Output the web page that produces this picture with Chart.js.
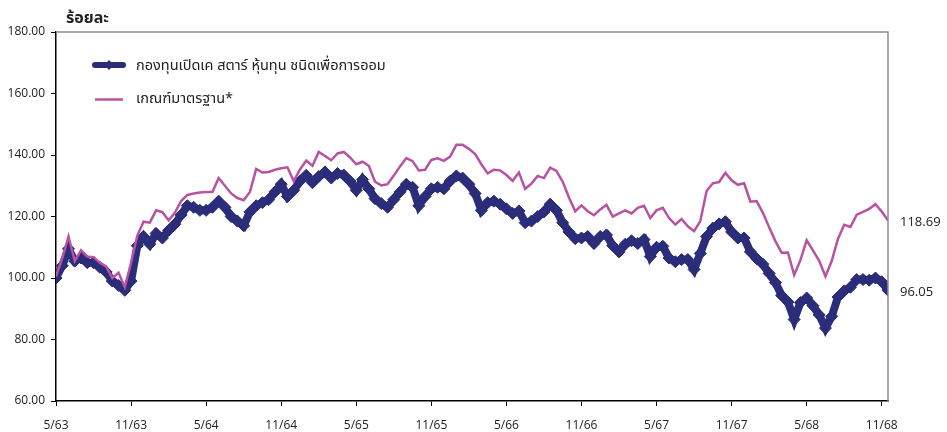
<!DOCTYPE html>
<html>
<head>
<meta charset="utf-8">
<script src="https://cdn.jsdelivr.net/npm/chart.js@4.4.1/dist/chart.umd.min.js"></script>
<style>
  html, body { margin: 0; padding: 0; background: #fff; }
</style>
</head>
<body>
<canvas id="myChart" width="947" height="432"></canvas>
<script>
// tick labels, one every 6 months (x value = half-months since 5/63)
const tickLabels = ["5/63", "11/63", "5/64", "11/64", "5/65", "11/65", "5/66", "11/66", "5/67", "11/67", "5/68", "11/68"];

const yTitle = "ร้อยละ";
const fundLabel = "กองทุนเปิดเค สตาร์ หุ้นทุน ชนิดเพื่อการออม";
const benchLabel = "เกณฑ์มาตรฐาน*";

// values, two per month
const fundValues = [
  100.0, 104, 109.5, 105.5, 106.5, 105, 105, 103.5, 102, 99, 97.6, 96, 99,
  110.5, 113.5, 111, 114.5, 113, 115.5, 117.5, 120.5, 123.5, 123, 122, 122,
  123, 125, 123, 120, 118.5, 117, 121.5, 123.5, 124.5, 125.5, 128, 130.5,
  126.5, 128.5, 131.5, 133.4, 131, 133, 134.5, 132.5, 134, 133.5, 131.5, 128.5,
  132, 129, 125.8, 124.2, 123, 125.5, 128, 130.5, 129.5, 123.5, 126.5, 129,
  129.5, 129, 131.5, 133.2, 132.5, 130.5, 127.5, 122, 124.5, 125, 124, 122.5,
  121, 121.8, 118, 118.5, 120, 121.5, 124, 122, 118, 115, 112.8, 113,
  113.5, 111.2, 113.5, 114, 110.5, 108.5, 111, 112.1, 111.2, 112.5, 107, 110,
  110.3, 106.5, 105.3, 106, 106, 102.8, 108, 113.5, 116.2, 117.6, 118.3, 115,
  113, 113, 108.5, 106.3, 104.5, 101.5, 98.5, 94.3, 92.2, 86.5, 92, 93.5,
  91, 88, 83.7, 87.5, 93.8, 95.8, 97, 99.5, 99.5, 99.3, 100, 98.8, 96.05
];

const benchValues = [
  100.5, 106.5, 113.5, 105.5, 109, 107, 106.8, 105, 103.8, 100, 101.7, 97, 105,
  113.8, 118.3, 118, 122, 121.4, 118.8, 121.2, 125, 127, 127.5, 127.8, 128,
  128, 132.5, 130, 127.5, 126, 125.3, 128, 135.5, 134.3, 134.5, 135.2, 135.7,
  136, 131.5, 135.3, 138.2, 136.5, 141, 139.7, 138.3, 140.5, 141, 139.2, 137,
  137.8, 136.5, 131.3, 130.1, 130.5, 133.3, 136.3, 139, 138, 135, 135.2, 138.4,
  138.9, 138.1, 139.5, 143.3, 143.3, 142, 140.3, 137, 134, 135.2, 135, 133.5,
  131.6, 134.3, 129, 130.7, 133.2, 132.5, 135.9, 134.8, 131.3, 126.2, 121.7, 123.6,
  121.7, 120.4, 122.3, 123.8, 120, 121, 122, 121, 122.8, 123.5, 119.5, 122,
  122.8, 119.5, 117.4, 119.2, 116.8, 115.2, 118.5, 128.3, 130.8, 131.2, 134.2, 131.8,
  130.3, 130.8, 124.8, 125, 121.2, 116.5, 112, 108.2, 108.3, 101, 105.8, 112.3,
  109, 105.6, 100.5, 105.5, 112.7, 117.3, 116.6, 120.6, 121.5, 122.5, 124, 121.6, 118.69
];

const fundColor = "#2b2c7a";
const benchColor = "#b852a2";
const thaiFont = "'Noto Sans Thai', 'Noto Sans', Tahoma, sans-serif";
const numFont = "'Open Sans', 'Liberation Sans', sans-serif";

const bgColor = {
  id: "bgColor",
  beforeDraw: (chart) => {
    const { ctx, width, height } = chart;
    ctx.save();
    ctx.fillStyle = "#fff";
    ctx.fillRect(0, 0, width, height);
    ctx.restore();
  },
};

// grey frame on top and right, title, legend inside the plot, end values
const decorations = {
  id: "decorations",
  afterDraw: (chart) => {
    const { ctx, chartArea } = chart;
    ctx.save();
    ctx.strokeStyle = "#8c8c8c";
    ctx.lineWidth = 1.5;
    ctx.beginPath();
    ctx.moveTo(chartArea.left, chartArea.top);
    ctx.lineTo(chartArea.right, chartArea.top);
    ctx.lineTo(chartArea.right, chartArea.bottom);
    ctx.stroke();

    ctx.fillStyle = "#222";
    ctx.font = "bold 16px " + thaiFont;
    ctx.textBaseline = "alphabetic";
    ctx.fillText(yTitle, chartArea.left + 10, 23);

    // legend
    const lx = chartArea.left + 37;
    ctx.lineCap = "round";
    ctx.strokeStyle = fundColor;
    ctx.lineWidth = 6;
    ctx.beginPath();
    ctx.moveTo(lx + 2, 65);
    ctx.lineTo(lx + 30, 65);
    ctx.stroke();
    ctx.fillStyle = fundColor;
    ctx.beginPath();
    ctx.moveTo(lx + 16, 60);
    ctx.lineTo(lx + 21, 65);
    ctx.lineTo(lx + 16, 70);
    ctx.lineTo(lx + 11, 65);
    ctx.fill();
    ctx.lineCap = "butt";
    ctx.strokeStyle = benchColor;
    ctx.lineWidth = 2.5;
    ctx.beginPath();
    ctx.moveTo(lx + 2, 99.5);
    ctx.lineTo(lx + 30, 99.5);
    ctx.stroke();

    ctx.fillStyle = "#222";
    ctx.font = "14.5px " + thaiFont;
    ctx.textBaseline = "middle";
    ctx.fillText(fundLabel, lx + 43, 67);
    ctx.fillText(benchLabel, lx + 43, 100);

    // last values beside the series ends
    ctx.font = "13px " + numFont;
    chart.data.datasets.forEach((ds, i) => {
      const meta = chart.getDatasetMeta(i);
      const last = meta.data[meta.data.length - 1];
      const v = ds.data[ds.data.length - 1].y;
      ctx.fillText(v.toFixed(2), chartArea.right + 12, last.y + 2);
    });
    ctx.restore();
  },
};

const ctx = document.getElementById("myChart");

new Chart(ctx, {
  type: "line",
  data: {
    datasets: [
      {
        label: fundLabel,
        data: fundValues.map((v, i) => ({ x: i, y: v })),
        borderColor: fundColor,
        backgroundColor: fundColor,
        borderWidth: 8,
        pointStyle: "rectRot",
        pointRadius: 6,
        pointBorderWidth: 1,
        pointBorderColor: fundColor,
        pointBackgroundColor: fundColor,
        tension: 0,
        order: 2,
      },
      {
        label: benchLabel,
        data: benchValues.map((v, i) => ({ x: i, y: v })),
        borderColor: benchColor,
        borderWidth: 2.5,
        pointRadius: 0,
        tension: 0,
        order: 1,
      },
    ],
  },
  options: {
    responsive: false,
    animation: false,
    layout: { padding: { top: 32, right: 59, bottom: 0, left: 0 } },
    plugins: {
      legend: { display: false },
      tooltip: { enabled: false },
    },
    scales: {
      x: {
        type: "linear",
        min: 0,
        max: 133,
        afterFit: (scale) => { scale.height = 31; },
        border: { display: true, color: "#000", width: 1.5 },
        grid: { drawOnChartArea: false, drawTicks: true, tickLength: 5, color: "#000", lineWidth: 1 },
        ticks: {
          stepSize: 12,
          includeBounds: false,
          autoSkip: false,
          maxRotation: 0,
          padding: 12,
          color: "#222",
          font: { family: numFont, size: 12 },
          callback: (value) => tickLabels[value / 12] || "",
        },
      },
      y: {
        min: 60,
        max: 180,
        afterFit: (scale) => { scale.width = 56; },
        border: { display: true, color: "#000", width: 1.5 },
        grid: { drawOnChartArea: false, drawTicks: true, tickLength: 5, color: "#000", lineWidth: 1 },
        ticks: {
          stepSize: 20,
          padding: 6,
          color: "#222",
          font: { family: numFont, size: 12 },
          callback: (value) => value.toFixed(2),
        },
      },
    },
  },
  plugins: [bgColor, decorations],
});
</script>
</body>
</html>
